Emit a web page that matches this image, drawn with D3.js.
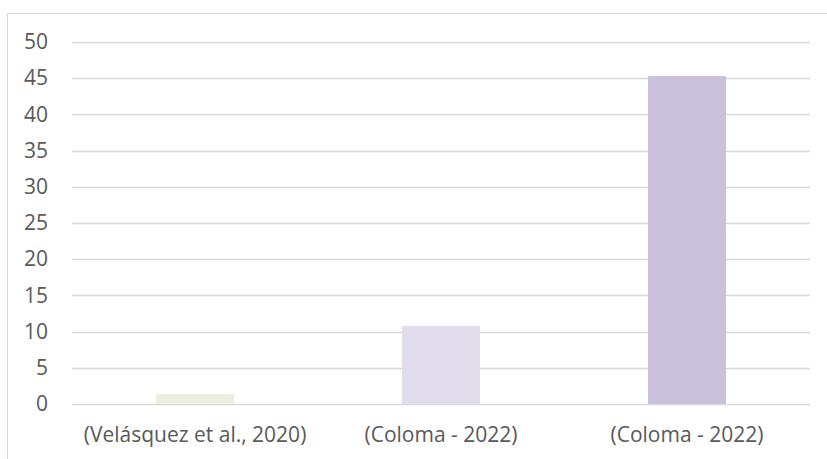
<!DOCTYPE html>
<html>
<head>
<meta charset="utf-8">
<script src="https://cdn.jsdelivr.net/npm/d3@7"></script>
<style>
  html, body { margin: 0; padding: 0; background: #ffffff; }
  svg { display: block; }
</style>
</head>
<body>
<svg id="chart" width="827" height="459"></svg>
<script>
// Chart data
const categories = ["(Velásquez et al., 2020)", "(Coloma - 2022)", "(Coloma - 2022)"];
const values = [1.4, 10.8, 45.3];
const barColors = ["#ECEFE0", "#E2DDEC", "#CAC2DC"];
const yTicks = [0, 5, 10, 15, 20, 25, 30, 35, 40, 45, 50];

const svg = d3.select("#chart");
const W = 827, H = 459;
const margin = { left: 72, right: 17, top: 42, bottom: 55 };
const plotW = W - margin.left - margin.right;
const plotH = H - margin.top - margin.bottom;
const labelFont = "'Open Sans', 'Noto Sans', sans-serif";

// Outer chart frame (extends past the right and bottom edges)
svg.append("rect")
  .attr("x", 7.5).attr("y", 13.5)
  .attr("width", W + 10).attr("height", H + 10)
  .attr("fill", "#ffffff")
  .attr("stroke", "#D9D9D9").attr("stroke-width", 1);

const g = svg.append("g").attr("transform", `translate(${margin.left},${margin.top})`);

const x = d3.scaleBand()
  .domain(d3.range(categories.length))
  .range([0, plotW])
  .paddingInner(0.683)
  .paddingOuter(0.683 / 2);

const y = d3.scaleLinear().domain([0, 50]).range([plotH, 0]);

// Horizontal gridlines
g.append("g")
  .selectAll("line")
  .data(yTicks)
  .join("line")
  .attr("x1", 0).attr("x2", plotW)
  .attr("y1", d => Math.round(y(d)) + 0.5)
  .attr("y2", d => Math.round(y(d)) + 0.5)
  .attr("stroke", "#D9D9D9").attr("stroke-width", 1.3);

// Bars
g.append("g")
  .selectAll("rect")
  .data(values)
  .join("rect")
  .attr("x", (d, i) => x(i))
  .attr("width", x.bandwidth())
  .attr("y", d => y(d))
  .attr("height", d => y(0) - y(d))
  .attr("fill", (d, i) => barColors[i]);

// Y axis labels
const yAxis = d3.axisLeft(y).tickValues(yTicks).tickSize(0).tickPadding(24);
g.append("g").call(yAxis)
  .call(a => a.select(".domain").remove())
  .selectAll("text")
  .attr("font-family", labelFont)
  .attr("font-size", 21)
  .attr("fill", "#595959");

// X axis labels
const xAxis = d3.axisBottom(x).tickFormat(i => categories[i]).tickSize(0).tickPadding(23);
g.append("g").attr("transform", `translate(0,${plotH})`).call(xAxis)
  .call(a => a.select(".domain").remove())
  .selectAll("text")
  .attr("font-family", labelFont)
  .attr("font-size", 21)
  .attr("fill", "#595959");
</script>
</body>
</html>
